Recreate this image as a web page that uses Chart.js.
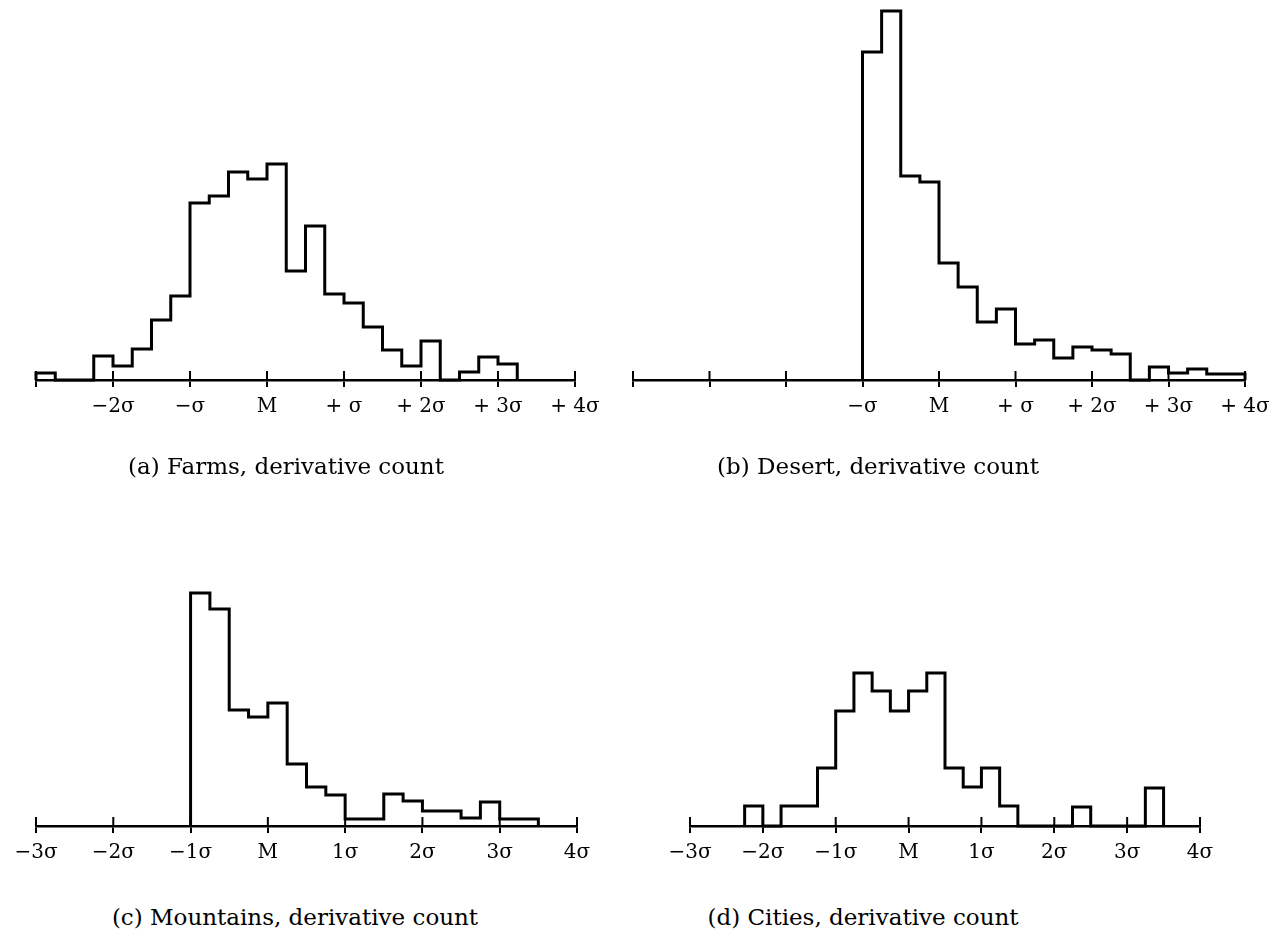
<!DOCTYPE html>
<html>
<head>
<meta charset="utf-8">
<script src="https://cdn.jsdelivr.net/npm/chart.js@4.4.0/dist/chart.umd.min.js"></script>
<style>
  body { margin: 0; background: #fff; width: 1278px; height: 944px; position: relative; overflow: hidden; }
  canvas { position: absolute; }
  .cap { position: absolute; transform: translate(-50%, -50%); font-family: "DejaVu Serif", serif; font-size: 23px; color: #000; white-space: nowrap; }
</style>
</head>
<body>
<canvas id="farms" width="639" height="429" style="left:0px;top:0px"></canvas>
<canvas id="desert" width="678" height="429" style="left:600px;top:0px"></canvas>
<canvas id="mountains" width="600" height="429" style="left:0px;top:446px"></canvas>
<canvas id="cities" width="638" height="429" style="left:640px;top:446px"></canvas>
<div class="cap" style="left:286px;top:466px">(a) Farms, derivative count</div>
<div class="cap" style="left:878px;top:466px">(b) Desert, derivative count</div>
<div class="cap" style="left:295px;top:917px">(c) Mountains, derivative count</div>
<div class="cap" style="left:863px;top:917px">(d) Cities, derivative count</div>
<script>
const binWidth = 0.25;

const farmsStart = -3;
const farmsCounts = [7, 0, 0, 24, 14, 31, 60, 84, 177, 184, 208, 201, 216, 109, 154, 86, 77, 53, 30, 14, 39, 0, 8, 23, 16];
const farmsTicks = ["", "−2σ", "−σ", "M", "+ σ", "+ 2σ", "+ 3σ", "+ 4σ"];

const desertStart = -1;
const desertCounts = [328, 369, 204, 198, 117, 93, 58, 71, 36, 40, 22, 33, 30, 26, 0, 13, 7, 11, 6, 6];
const desertTicks = ["", "", "", "−σ", "M", "+ σ", "+ 2σ", "+ 3σ", "+ 4σ"];

const mountainsStart = -1;
const mountainsCounts = [233, 217, 116, 109, 123, 62, 39, 31, 7, 7, 32, 25, 15, 15, 8, 24, 7, 7];
const mountainsTicks = ["−3σ", "−2σ", "−1σ", "M", "1σ", "2σ", "3σ", "4σ"];

const citiesStart = -2.25;
const citiesCounts = [20, 0, 20, 20, 58, 115, 153, 135, 115, 135, 153, 58, 39, 58, 20, 0, 0, 0, 19, 0, 0, 0, 38];
const citiesTicks = ["−3σ", "−2σ", "−1σ", "M", "1σ", "2σ", "3σ", "4σ"];

function stepPoints(start, counts) {
  const pts = [{ x: start, y: 0 }];
  counts.forEach((c, i) => pts.push({ x: start + i * binWidth, y: c }));
  pts.push({ x: start + counts.length * binWidth, y: 0 });
  return pts;
}

// tick marks cross the axis line, so draw the upper half too
const crossTicks = {
  id: "crossTicks",
  afterDraw(chart) {
    const sx = chart.scales.x;
    const ctx = chart.ctx;
    const y = chart.chartArea.bottom;
    ctx.save();
    ctx.strokeStyle = "#000";
    ctx.lineWidth = 2;
    sx.ticks.forEach((t, i) => {
      const px = sx.getPixelForTick(i);
      ctx.beginPath();
      ctx.moveTo(px, y - 9);
      ctx.lineTo(px, y);
      ctx.stroke();
    });
    ctx.restore();
  },
};

function makeHist(id, start, counts, min, max, labels, padding) {
  new Chart(document.getElementById(id).getContext("2d"), {
    type: "line",
    data: {
      datasets: [{
        data: stepPoints(start, counts),
        stepped: true,
        borderColor: "#000",
        borderWidth: 3,
        pointRadius: 0,
        fill: false,
        clip: false,
      }],
    },
    options: {
      responsive: false,
      animation: false,
      layout: { padding: padding },
      plugins: { legend: { display: false }, tooltip: { enabled: false } },
      scales: {
        x: {
          type: "linear",
          min: min,
          max: max,
          border: { display: true, color: "#000", width: 2.5 },
          grid: { drawOnChartArea: false, drawTicks: true, tickLength: 7, color: "#000", lineWidth: 2 },
          ticks: {
            stepSize: 1,
            padding: 8,
            maxRotation: 0,
            autoSkip: false,
            color: "#000",
            font: { family: "DejaVu Serif", size: 20 },
            callback: (v) => labels[Math.round(v - min)],
          },
        },
        y: { display: false, min: 0, max: 370 },
      },
    },
    plugins: [crossTicks],
  });
}

makeHist("farms", farmsStart, farmsCounts, -3, 4, farmsTicks, { left: 36, right: 64, top: 10, bottom: 2 });
makeHist("desert", desertStart, desertCounts, -4, 4, desertTicks, { left: 33, right: 33, top: 10, bottom: 2 });
makeHist("mountains", mountainsStart, mountainsCounts, -3, 4, mountainsTicks, { left: 36, right: 23, top: 10, bottom: 2 });
makeHist("cities", citiesStart, citiesCounts, -3, 4, citiesTicks, { left: 50, right: 78, top: 10, bottom: 2 });
</script>
</body>
</html>
